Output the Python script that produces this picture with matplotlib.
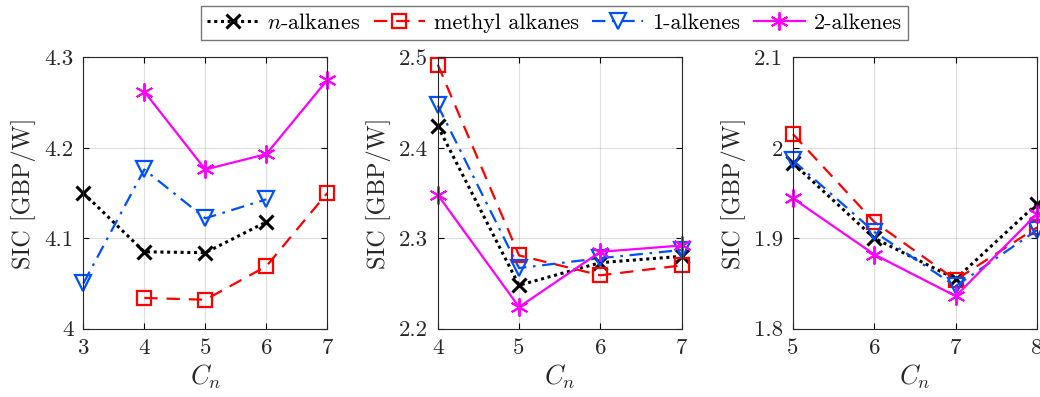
import matplotlib
matplotlib.use("Agg")
import matplotlib.pyplot as plt
from matplotlib.ticker import FuncFormatter

plt.rcParams['font.family'] = ['cmr10', 'DejaVu Serif']
plt.rcParams['mathtext.fontset'] = 'cm'
plt.rcParams['axes.formatter.use_mathtext'] = True
plt.rcParams['axes.unicode_minus'] = False

series_names = ["$n$-alkanes", "methyl alkanes", "1-alkenes", "2-alkenes"]

# Panel 1
p1_x = {
    "n": [3, 4, 5, 6],
    "m": [4, 5, 6, 7],
    "a1": [3, 4, 5, 6],
    "a2": [4, 5, 6, 7],
}
p1_y = {
    "n": [4.150, 4.085, 4.084, 4.118],
    "m": [4.034, 4.032, 4.069, 4.150],
    "a1": [4.050, 4.176, 4.122, 4.143],
    "a2": [4.262, 4.176, 4.193, 4.275],
}
# Panel 2
p2_x = {k: [4, 5, 6, 7] for k in ["n", "m", "a1", "a2"]}
p2_y = {
    "n": [2.424, 2.248, 2.273, 2.280],
    "m": [2.492, 2.281, 2.259, 2.270],
    "a1": [2.447, 2.267, 2.278, 2.287],
    "a2": [2.348, 2.224, 2.285, 2.292],
}
# Panel 3
p3_x = {k: [5, 6, 7, 8] for k in ["n", "m", "a1", "a2"]}
p3_y = {
    "n": [1.983, 1.900, 1.855, 1.938],
    "m": [2.015, 1.918, 1.854, 1.912],
    "a1": [1.986, 1.907, 1.847, 1.909],
    "a2": [1.944, 1.882, 1.836, 1.927],
}

panels = [
    (p1_x, p1_y, (3, 7), [3, 4, 5, 6, 7], (4.0, 4.3), [4.0, 4.1, 4.2, 4.3]),
    (p2_x, p2_y, (4, 7), [4, 5, 6, 7], (2.2, 2.5), [2.2, 2.3, 2.4, 2.5]),
    (p3_x, p3_y, (5, 8), [5, 6, 7, 8], (1.8, 2.1), [1.8, 1.9, 2.0, 2.1]),
]

styles = {
    "n": dict(color="black", marker="x", ms=10, mew=2.2, ls=(0, (1, 1.2)), lw=2.2),
    "m": dict(color="#FF0000", marker="s", ms=10, mfc="none", mew=1.6, ls=(0, (6, 4)), lw=1.6),
    "a1": dict(color="#0050FF", marker="v", ms=12, mfc="none", mew=1.6, ls=(0, (6, 3, 1.2, 3)), lw=1.6),
    "a2": dict(color="#FF00FF", marker=(6, 2, 0), ms=13, mew=1.4, ls="-", lw=1.6),
}
keys = ["n", "m", "a1", "a2"]

fig = plt.figure(figsize=(10.4, 3.97), dpi=100)
lefts = [83.3 / 1040, 437.7 / 1040, 793 / 1040]
w = 244 / 1040
b = 1 - 328.7 / 397
h = (328.7 - 57.3) / 397

fmt = FuncFormatter(lambda v, p: f"{v:g}")
handles = []
for i, (px, py, xl, xt, yl, yt) in enumerate(panels):
    ax = fig.add_axes([lefts[i], b, w, h])
    for k, name in zip(keys, series_names):
        ln, = ax.plot(px[k], py[k], label=name, clip_on=False, **styles[k])
        if i == 0:
            handles.append(ln)
    ax.set_xlim(*xl)
    ax.set_ylim(*yl)
    ax.set_xticks(xt)
    ax.set_yticks(yt)
    ax.yaxis.set_major_formatter(fmt)
    ax.xaxis.set_major_formatter(fmt)
    ax.grid(True, color=(0.15, 0.15, 0.15), alpha=0.15, lw=0.8)
    ax.tick_params(direction="in", top=True, right=True, labelsize=16.5, length=4, width=0.8,
                   pad=7, labelcolor="#262626")
    for s in ax.spines.values():
        s.set_linewidth(0.8)
        s.set_color("#262626")
    ax.set_xlabel("$C_n$", fontsize=19, labelpad=3, color="#262626")
    ax.set_ylabel("SIC [GBP/W]", fontsize=17.5, labelpad=6, color="#262626")

leg = fig.legend(handles, series_names, loc="center", bbox_to_anchor=(554.5 / 1040, 1 - 23.1 / 397),
                 ncol=4, fontsize=16, frameon=True, fancybox=False, edgecolor="#555555",
                 handlelength=2.3, handletextpad=0.4, columnspacing=0.6, borderpad=0.3)
leg.get_frame().set_linewidth(1.0)

fig.savefig("out.png", dpi=100)
